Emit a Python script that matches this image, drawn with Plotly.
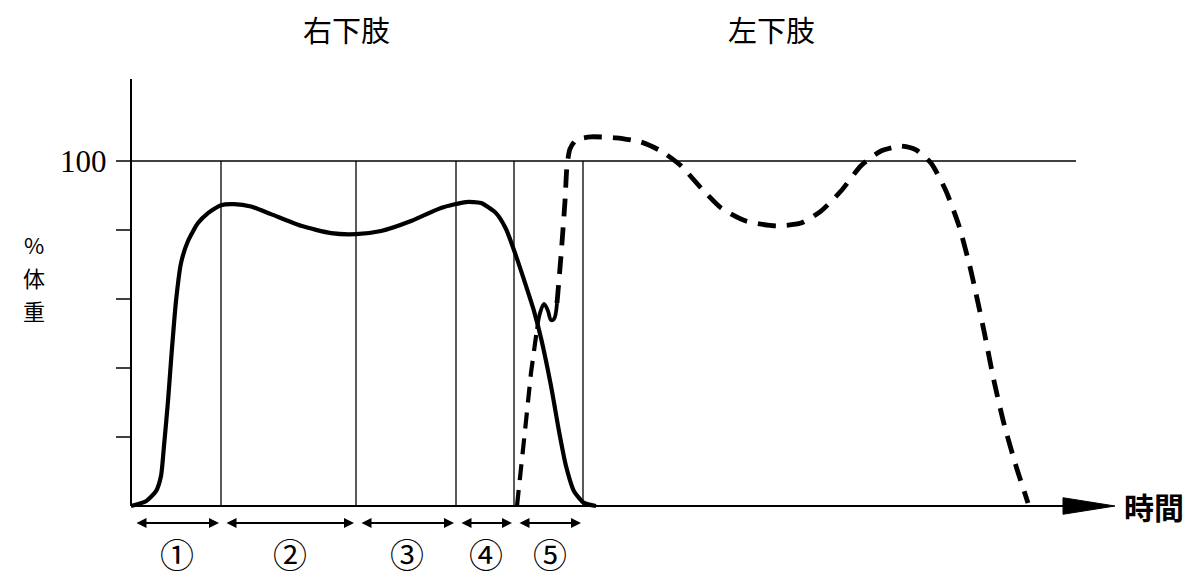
import plotly.graph_objects as go

# time in arbitrary units, load in % body weight
right_t = [0, 1.5, 2.5, 3.0, 3.3, 3.7, 4.0, 4.5, 5.0, 5.7, 6.7, 7.7, 9.0, 10.3, 12.0,
           14.0, 17.0, 20.0, 22.5, 25.0, 28.0, 31.0, 33.5, 35.0, 36.5, 37.5, 38.5,
           39.5, 40.3, 41.0, 42.0, 42.8, 43.5, 44.3, 45.3, 46.5]
right_w = [0, 1.4, 4.3, 8.7, 17.4, 30.4, 42.0, 59.4, 70.4, 76.8, 82.0, 84.9, 87.2, 87.5, 86.8,
           84.6, 81.2, 79.1, 78.8, 79.7, 82.6, 86.4, 88.1, 87.8, 84.9, 80.3, 72.5,
           63.8, 56.5, 48.7, 34.8, 21.7, 11.6, 4.3, 0.9, 0]

left_rise_t = [38.6, 39.0, 39.5, 40.0, 40.6]
left_rise_w = [0, 10.1, 24.6, 38.6, 51.3]

left_wiggle_t = [40.6, 40.9, 41.3, 41.7, 42.0, 42.3, 42.6]
left_wiggle_w = [51.3, 55.9, 58.6, 56.5, 53.9, 54.2, 58.8]

left_t = [42.6, 43.0, 43.4, 43.6, 43.9, 44.5, 46.0, 48.5, 51.0, 53.0, 55.0, 57.0, 59.0,
          61.5, 64.5, 67.0, 69.0, 71.0, 73.0, 75.0, 77.0, 78.5, 80.0, 81.5, 82.8,
          84.0, 85.3, 86.3, 87.3, 88.5, 89.7]
left_w = [58.8, 72.5, 88.4, 98.6, 103.5, 106.1, 107.0, 106.7, 105.5, 102.9, 98.6, 92.2, 86.4,
          82.6, 81.2, 82.0, 85.5, 91.3, 98.6, 102.9, 104.3, 103.2, 99.4, 91.3, 81.2,
          68.1, 50.7, 36.2, 23.8, 11.6, 0.9]

phase_bounds = [9.0, 22.5, 32.5, 38.3, 45.2]
phase_labels = ["①", "②", "③", "④", "⑤"]
y_ticks = [20, 40, 60, 80, 100]
ylabel_chars = ["%", "体", "重"]

JP = "Noto Sans CJK JP"

fig = go.Figure()
fig.add_trace(go.Scatter(x=right_t, y=right_w, mode="lines", line=dict(color="black", width=4.2, shape="spline", smoothing=0.6)))
fig.add_trace(go.Scatter(x=left_rise_t, y=left_rise_w, mode="lines", line=dict(color="black", width=4.2, dash="16px,10px")))
fig.add_trace(go.Scatter(x=left_wiggle_t, y=left_wiggle_w, mode="lines", line=dict(color="black", width=3.8, shape="spline")))
fig.add_trace(go.Scatter(x=left_t, y=left_w, mode="lines", line=dict(color="black", width=4.8, dash="18px,11px", shape="spline", smoothing=0.6)))

# axes
fig.add_shape(type="line", x0=0, x1=0, y0=0, y1=123.8, line=dict(color="black", width=2))
fig.add_shape(type="line", x0=0, x1=93.5, y0=0, y1=0, line=dict(color="black", width=2))
fig.add_shape(type="path", path="M 93.2 2.4 L 98.4 0 L 93.2 -2.4 Z", fillcolor="black", line=dict(color="black", width=1))
for v in y_ticks:
    fig.add_shape(type="line", x0=-1.5, x1=0, y0=v, y1=v, line=dict(color="black", width=1.5))
fig.add_shape(type="line", x0=0, x1=94.5, y0=100, y1=100, line=dict(color="black", width=1.5))
for b in phase_bounds:
    fig.add_shape(type="line", x0=b, x1=b, y0=0, y1=100, line=dict(color="black", width=1.3))

# phase arrows + numbers
prev = 0
for b, lab in zip(phase_bounds, phase_labels):
    a0, a1 = prev + 0.4, b - 0.2
    fig.add_annotation(x=a1, y=-4.9, ax=a0, ay=-4.9, axref="x", ayref="y", text="",
                       showarrow=True, arrowside="end+start", arrowhead=2, arrowsize=1,
                       arrowwidth=2, arrowcolor="black", standoff=0, startstandoff=0)
    fig.add_annotation(x=(a0 + a1) / 2, y=-13.9, text=lab, showarrow=False,
                       font=dict(family=JP, size=34, color="black"))
    prev = b

fig.add_annotation(x=-2.2, y=100, text="100", showarrow=False, xanchor="right",
                   font=dict(family="Liberation Serif", size=31, color="black"))
# vertical y label, one char per annotation
for i, ch in enumerate(ylabel_chars):
    fig.add_annotation(x=-9.7, y=76.0 - i * 9.6, text=ch, showarrow=False,
                       font=dict(family=JP, size=22, color="black"))
fig.add_annotation(x=21.5, y=138.3, text="右下肢", showarrow=False, font=dict(family=JP, size=29, color="black"))
fig.add_annotation(x=64.0, y=138.3, text="左下肢", showarrow=False, font=dict(family=JP, size=29, color="black"))
fig.add_annotation(x=102.3, y=0, text="時間", showarrow=False, font=dict(family=JP, size=30, color="black", weight=600))

# page body has ~7px offset, so figure is a bit smaller and ranges shifted
fig.update_layout(
    width=1193, height=580, showlegend=False,
    margin=dict(l=0, r=0, t=0, b=0),
    paper_bgcolor="white", plot_bgcolor="white",
    xaxis=dict(range=[-12.3, 107.0], visible=False, fixedrange=True),
    yaxis=dict(range=[-23.77, 144.35], visible=False, fixedrange=True),
)
fig.write_html("out.html")
